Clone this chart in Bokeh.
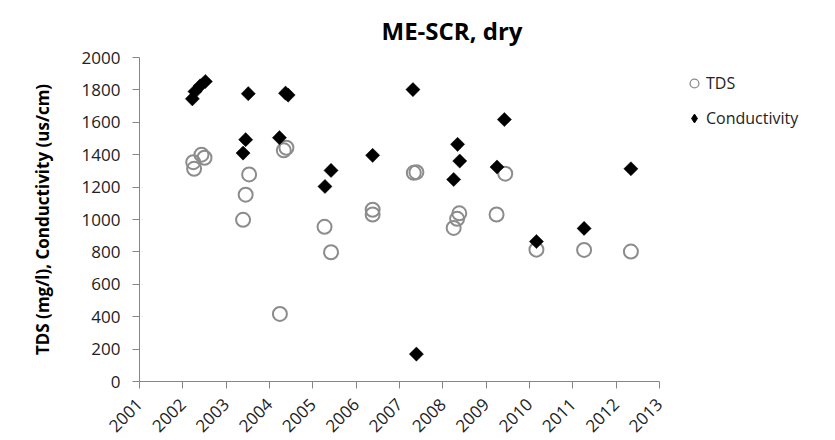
import numpy as np
from bokeh.plotting import figure
from bokeh.models import (ColumnDataSource, Range1d, FixedTicker, Legend, LegendItem)
from bokeh.embed import file_html
from bokeh.resources import INLINE

# ---- data (decimal year, value) ----
tds_year = [2002.26, 2002.24, 2002.43, 2002.50,
            2003.53, 2003.45, 2003.39,
            2004.39, 2004.33, 2004.24,
            2005.27, 2005.42,
            2006.38, 2006.38,
            2007.33, 2007.39,
            2008.38, 2008.33, 2008.25,
            2009.44, 2009.24,
            2010.16, 2011.26, 2012.34]
tds_value = [1313, 1354, 1400, 1381,
             1278, 1153, 998,
             1443, 1427, 417,
             955, 798,
             1060, 1031,
             1288, 1292,
             1038, 1004, 948,
             1283, 1031,
             814, 812, 802]

cond_year = [2002.22, 2002.28, 2002.40, 2002.52,
             2003.51, 2003.45, 2003.39,
             2004.37, 2004.43, 2004.23,
             2005.42, 2005.28,
             2006.38,
             2007.31, 2007.39,
             2008.34, 2008.39, 2008.25,
             2009.42, 2009.25,
             2010.16, 2011.26, 2012.34]
cond_value = [1745, 1790, 1825, 1852,
              1777, 1493, 1410,
              1780, 1768, 1505,
              1303, 1204,
              1396,
              1802, 169,
              1464, 1361, 1247,
              1617, 1324,
              864, 945, 1313]

year_ticks = list(range(2001, 2014))
y_ticks = list(range(0, 2001, 200))

FONT = "Open Sans"

p = figure(frame_width=520, frame_height=324, output_backend="svg", toolbar_location=None,
           x_range=Range1d(2001, 2013), y_range=Range1d(0, 2000),
           min_border_left=139, min_border_right=176,
           min_border_top=57, min_border_bottom=59,
           title="ME-SCR, dry")
p.outline_line_color = None
p.grid.visible = False

p.title.text_font = FONT
p.title.text_font_size = "24px"
p.title.text_font_style = "bold"
p.title.text_color = "#000000"
p.title.align = "left"
p.title.offset = 242
p.title.standoff = 22
p.title.text_line_height = 0.8

for ax in (p.xaxis[0], p.yaxis[0]):
    ax.axis_line_color = "#868686"
    ax.major_tick_line_color = "#868686"
    ax.minor_tick_line_color = None
    ax.major_tick_in = 0
    ax.major_tick_out = 7
    ax.major_label_text_font = FONT
    ax.major_label_text_font_size = "17px"
    ax.major_label_text_color = "#222222"

p.xaxis.ticker = FixedTicker(ticks=year_ticks)
p.xaxis.major_label_orientation = np.pi / 4
p.xaxis.major_label_standoff = 13
p.yaxis.ticker = FixedTicker(ticks=y_ticks)
p.yaxis.major_label_standoff = 12
p.yaxis.axis_label = "TDS (mg/l), Conductivity (us/cm)"
p.yaxis.axis_label_text_font = FONT
p.yaxis.axis_label_text_font_size = "17px"
p.yaxis.axis_label_text_font_style = "bold"
p.yaxis.axis_label_text_color = "#000000"
p.yaxis.axis_label_standoff = 25

tds_src = ColumnDataSource(dict(x=tds_year, y=tds_value))
cond_src = ColumnDataSource(dict(x=cond_year, y=cond_value))

p.scatter("x", "y", source=tds_src, marker="circle", size=14,
          fill_color=None, line_color="#8c8c8c", line_width=2)
p.scatter("x", "y", source=cond_src, marker="square", size=10, angle=np.pi / 4,
          fill_color="#000000", line_color="#000000", line_width=0.5)

# hidden renderers on the same data, used only for the legend's swatches
lg_tds = p.scatter("x", "y", source=tds_src, marker="circle", size=9,
                   fill_color=None, line_color="#8c8c8c", line_width=1.3, visible=False)
lg_cond = p.scatter("x", "y", source=cond_src, marker="diamond", size=9,
                    fill_color="#000000", line_color="#000000", visible=False)

legend = Legend(items=[LegendItem(label="TDS", renderers=[lg_tds]),
                       LegendItem(label="Conductivity", renderers=[lg_cond])],
                location=(24, 252), orientation="vertical",
                glyph_width=22, glyph_height=22, label_height=22,
                spacing=13, padding=0, margin=0, label_standoff=1,
                label_text_font=FONT, label_text_font_size="16px",
                label_text_color="#222222",
                inactive_fill_alpha=0,
                border_line_color=None, background_fill_alpha=0)
p.add_layout(legend, "right")

open("out.html", "w").write(file_html(p, INLINE))
